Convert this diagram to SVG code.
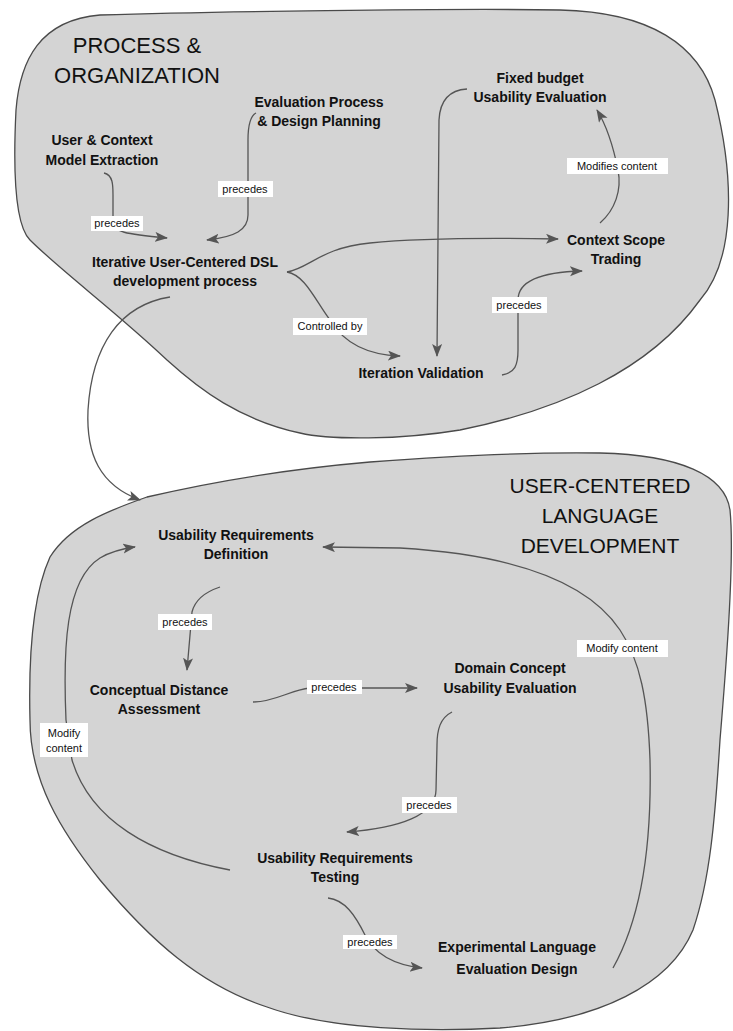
<svg xmlns="http://www.w3.org/2000/svg" width="733" height="1031" viewBox="0 0 733 1031">
<style>
.blob{fill:#d4d4d4;stroke:#4a4a4a;stroke-width:1.3}
.title{font-family:"Liberation Sans",Arial,sans-serif;font-size:22px;fill:#111;text-anchor:middle}
.t2{font-size:21px}
.node{font-family:"Liberation Sans",Arial,sans-serif;font-size:14px;font-weight:bold;fill:#111;text-anchor:middle}
.edge{fill:none;stroke:#555;stroke-width:1.3}
.arr{marker-end:url(#ah)}
.lb{fill:#fff}
.lt{font-family:"Liberation Sans",Arial,sans-serif;font-size:11px;fill:#111;text-anchor:middle}
</style>
<defs>
<marker id="ah" markerUnits="userSpaceOnUse" markerWidth="14" markerHeight="11" refX="12" refY="5" orient="auto">
<path d="M0,0 L13,5 L0,10 L3,5 z" fill="#555"/>
</marker>
</defs>
<rect width="733" height="1031" fill="#fff"/>
<g id="process-organization">
<path class="blob" d="M100,15 C200,12 450,8 560,10 C650,12 700,45 715,100 C735,180 735,260 700,300 C650,370 560,410 460,430 C400,440 330,440 300,433 C240,420 200,390 167,360 C120,315 60,270 30,240 C12,222 14,150 16,110 C20,60 40,20 100,15 Z"/>
<text class="title" x="137" y="53">PROCESS &amp;</text>
<text class="title" x="137" y="83">ORGANIZATION</text>
</g>
<g id="user-centered-language-development">
<path class="blob" d="M147,497 C220,480 300,468 370,462 C450,456 540,452 600,453 C680,455 725,475 730,510 C735,560 725,680 720,740 C715,820 710,880 693,930 C670,985 600,1020 500,1028 C430,1032 330,1030 267,1007 C200,985 150,940 100,880 C60,830 30,780 30,720 C28,640 35,590 50,557 C70,525 110,510 147,497 Z"/>
<text class="title t2" x="600" y="493">USER-CENTERED</text>
<text class="title t2" x="600" y="523">LANGUAGE</text>
<text class="title t2" x="600" y="553">DEVELOPMENT</text>
</g>
<g id="connectors">
<path class="edge arr" d="M104,173 C113,175 113,185 113,195 L113,222 C113,232 125,234 167,238"/>
<path class="edge arr" d="M256,113 C250,116 248,125 248,140 L248,215 C248,230 235,237 207,240"/>
<path class="edge arr" d="M287,272 C310,268 320,248 370,243 C420,238 500,238 558,239"/>
<path class="edge arr" d="M287,272 C305,275 315,300 330,320 C345,345 370,355 400,356"/>
<path class="edge arr" d="M467,89 C450,90 440,100 439,120 L437,356"/>
<path class="edge arr" d="M600,223 C615,210 622,190 618,170 C614,150 608,128 597,110"/>
<path class="edge arr" d="M502,375 C515,373 518,365 518,350 L518,300 C518,282 540,272 582,271"/>
<path class="edge arr" d="M170,297 C120,305 92,345 88,410 C86,455 100,485 140,500"/>
<path class="edge arr" d="M220,587 C205,592 195,600 192,612 L187,670"/>
<path class="edge arr" d="M253,702 C275,702 290,690 310,688 L417,688"/>
<path class="edge arr" d="M452,712 C440,718 437,730 437,745 L436,790 C436,815 400,828 347,832"/>
<path class="edge arr" d="M230,870 C150,855 90,820 72,760 L66,720 C63,650 65,580 100,558 C110,552 120,549 135,547"/>
<path class="edge arr" d="M613,968 C640,920 652,850 650,760 C648,700 640,660 620,630 C590,585 520,555 400,548 L323,547"/>
<path class="edge arr" d="M328,898 C345,900 355,915 365,935 C375,955 395,965 422,968"/>
<rect class="lb" x="91" y="216" width="52" height="15"/>
<text class="lt" x="117" y="227">precedes</text>
<rect class="lb" x="218" y="181" width="55" height="16"/>
<text class="lt" x="245" y="193">precedes</text>
<rect class="lb" x="293" y="318" width="74" height="17"/>
<text class="lt" x="330" y="330">Controlled by</text>
<rect class="lb" x="567" y="158" width="101" height="16"/>
<text class="lt" x="617" y="170">Modifies content</text>
<rect class="lb" x="492" y="297" width="55" height="16"/>
<text class="lt" x="519" y="309">precedes</text>
<rect class="lb" x="158" y="614" width="54" height="16"/>
<text class="lt" x="185" y="626">precedes</text>
<rect class="lb" x="307" y="680" width="55" height="14"/>
<text class="lt" x="334" y="691">precedes</text>
<rect class="lb" x="402" y="797" width="55" height="16"/>
<text class="lt" x="429" y="809">precedes</text>
<rect class="lb" x="40" y="723" width="48" height="34"/>
<text class="lt" x="64" y="737">Modify</text>
<text class="lt" x="64" y="752">content</text>
<rect class="lb" x="577" y="640" width="91" height="17"/>
<text class="lt" x="622" y="652">Modify content</text>
<rect class="lb" x="343" y="935" width="54" height="14"/>
<text class="lt" x="370" y="946">precedes</text>
</g>
<g id="node-user-context">
<text class="node" x="102" y="145">User &amp; Context</text>
<text class="node" x="102" y="165">Model Extraction</text>
</g>
<g id="node-evaluation-process">
<text class="node" x="319" y="107">Evaluation Process</text>
<text class="node" x="319" y="126">&amp; Design Planning</text>
</g>
<g id="node-fixed-budget">
<text class="node" x="540" y="83">Fixed budget</text>
<text class="node" x="540" y="102">Usability Evaluation</text>
</g>
<g id="node-context-scope">
<text class="node" x="616" y="245">Context Scope</text>
<text class="node" x="616" y="264">Trading</text>
</g>
<g id="node-iterative">
<text class="node" x="185" y="267">Iterative User-Centered DSL</text>
<text class="node" x="185" y="286">development process</text>
</g>
<g id="node-iteration-validation">
<text class="node" x="421" y="378">Iteration Validation</text>
</g>
<g id="node-usability-definition">
<text class="node" x="236" y="540">Usability Requirements</text>
<text class="node" x="236" y="559">Definition</text>
</g>
<g id="node-conceptual-distance">
<text class="node" x="159" y="695">Conceptual Distance</text>
<text class="node" x="159" y="714">Assessment</text>
</g>
<g id="node-domain-concept">
<text class="node" x="510" y="673">Domain Concept</text>
<text class="node" x="510" y="693">Usability Evaluation</text>
</g>
<g id="node-usability-testing">
<text class="node" x="335" y="863">Usability Requirements</text>
<text class="node" x="335" y="882">Testing</text>
</g>
<g id="node-experimental">
<text class="node" x="517" y="952">Experimental Language</text>
<text class="node" x="517" y="974">Evaluation Design</text>
</g>
</svg>
